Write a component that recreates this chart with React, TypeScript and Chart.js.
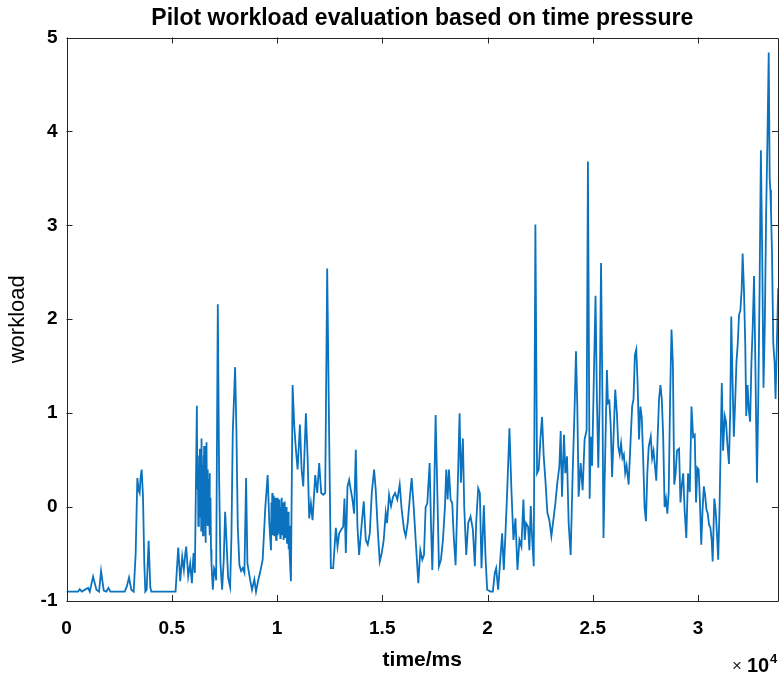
import React, { useEffect, useRef } from 'react';
import { Chart, registerables } from 'chart.js';

Chart.register(...registerables);

const timeMs = [
  0, 552, 631, 726, 1026, 1105, 1263, 1421, 1547, 1642,
  1769, 1895, 1990, 2085, 2764, 2859, 2970, 3080, 3191, 3285,
  3365, 3427, 3475, 3522, 3570, 3633, 3696, 3744, 3807, 3902,
  3980, 4028, 5181, 5308, 5403, 5497, 5576, 5640, 5687, 5782,
  5877, 5956, 6035, 6098,
  6193, 6215, 6240, 6262, 6287, 6310, 6335, 6357, 6382, 6400,
  6414, 6437, 6461, 6485, 6509, 6525, 6540, 6565, 6588, 6605,
  6619, 6635, 6651, 6675, 6698, 6720, 6746, 6770, 6793, 6817,
  6841, 6865, 6888,
  6951, 7014, 7062, 7109, 7188, 7251, 7314, 7393, 7472, 7536,
  7599, 7678, 7773, 7836, 7899, 8010, 8073, 8136, 8215, 8294,
  8373, 8452, 8531, 8594, 8719, 8813, 8924, 9003, 9098, 9193,
  9319, 9445, 9556, 9635,
  9714, 9735, 9755, 9775, 9795, 9815, 9835, 9855, 9875, 9895,
  9915, 9935, 9955, 9975, 9995, 10015, 10035, 10055, 10075, 10095,
  10115, 10135, 10155, 10175, 10195, 10215, 10235, 10255, 10275, 10295,
  10315, 10335, 10355, 10375, 10395, 10415, 10435, 10455, 10475, 10495,
  10515, 10535, 10555, 10575, 10600,
  10662, 10741,
  10820, 10899, 10978, 11089, 11168, 11247, 11373, 11452, 11531, 11610,
  11689, 11815, 11910, 12005, 12100, 12195, 12289, 12384, 12479, 12558,
  12669, 12795, 12874, 12953, 13048, 13143, 13206, 13269, 13348, 13427,
  13506, 13585, 13664, 13743, 13822, 13901, 14027, 14122, 14217, 14312,
  14407, 14502, 14612, 14691, 14786, 14881, 14976, 15070, 15165, 15228,
  15323, 15418, 15513, 15607, 15718, 15829, 15924, 16034, 16113, 16208,
  16303, 16397, 16492, 16587, 16713, 16808, 16903, 16982, 17061, 17140,
  17251, 17314, 17377, 17456, 17535, 17614, 17693, 17788, 17883, 17977,
  18041, 18104, 18167, 18246, 18325, 18388, 18483, 18562, 18673, 18736,
  18831, 18894, 18989, 19083, 19194, 19305, 19399, 19462, 19557, 19636,
  19715, 19826, 19905, 19984, 20142, 20253, 20347, 20411, 20505, 20616,
  20695, 20774, 20853, 20932, 21043, 21137, 21232, 21327, 21422, 21517,
  21611, 21706, 21769, 21833, 21927, 21990, 22054, 22117, 22196, 22275,
  22354, 22433, 22512, 22591, 22670, 22749, 22844, 22939, 23034, 23128,
  23223, 23318, 23413, 23476, 23539, 23634, 23697, 23776, 23855, 23950,
  24045, 24139, 24203, 24266, 24329, 24424, 24519, 24613, 24708, 24771,
  24853, 24902, 24968, 25066, 25132, 25197, 25263, 25329, 25394, 25460,
  25509, 25591, 25673, 25722, 25788, 25853, 25919, 26001, 26067, 26149,
  26214, 26280, 26345, 26411, 26477, 26542, 26608, 26706, 26805, 26870,
  26936, 27001, 27067, 27133, 27198, 27264, 27330, 27395, 27461, 27526,
  27592, 27657, 27755, 27821, 27887, 27952, 28018, 28084, 28149, 28215,
  28280, 28346, 28412, 28477, 28543, 28608, 28674, 28740, 28805, 28871,
  28937, 29002, 29100, 29166, 29232, 29297, 29363, 29445, 29527, 29609,
  29691, 29767, 29845, 29907, 29969, 30031, 30092, 30154, 30216, 30278,
  30340, 30402, 30464, 30526, 30588, 30650, 30696, 30774, 30836, 30897,
  30959, 31021, 31083, 31130, 31192, 31269, 31331, 31393, 31470, 31532,
  31579, 31640, 31702, 31764, 31826, 31888, 31950, 32012, 32074, 32120,
  32182, 32244, 32291, 32353, 32414, 32476, 32538, 32600, 32662, 32724,
  32801, 32863, 32925, 32987, 33049, 33111, 33173, 33235, 33297, 33359,
  33405, 33436, 33467, 33514, 33576, 33638, 33684, 33746, 33808, 33870,
];

const workload = [
  -0.9, -0.9, -0.875, -0.9, -0.86, -0.9, -0.74, -0.88, -0.9, -0.68,
  -0.89, -0.9, -0.86, -0.9, -0.9, -0.85, -0.75, -0.88, -0.9, -0.5,
  0.31, 0.18, 0.15, 0.32, 0.4, 0.12, -0.6, -0.9, -0.88, -0.36,
  -0.85, -0.9, -0.9, -0.43, -0.79, -0.53, -0.67, -0.5, -0.42, -0.74,
  -0.6, -0.81, -0.49, -0.7,
  1.08, 0.2, 0.55, -0.2, 0.45, -0.1, 0.62, 0.05, 0.5, -0.25,
  0.73, 0.0, 0.45, -0.3, 0.55, 0.1, 0.65, -0.2, 0.35, -0.38,
  0.3, 0.0, 0.69, -0.1, 0.4, -0.2, 0.3, -0.05, 0.36, -0.3,
  0.1, -0.45, -0.6,
  -0.88, -0.65, -0.68, -0.78, 2.16, 0.3, -0.6, -0.88, -0.55, -0.05,
  -0.35, -0.75, -0.85, -0.3, 0.8, 1.49, 0.8, -0.2, -0.62, -0.68,
  -0.65, -0.7, 0.31, -0.6, -0.77, -0.88, -0.77, -0.9, -0.79, -0.7,
  -0.56, 0.0, 0.34, -0.17,
  -0.46, 0.05, -0.2, 0.15, -0.3, 0.08, -0.15, 0.12, -0.3, 0.0,
  -0.25, 0.1, -0.35, 0.05, -0.2, 0.1, -0.3, 0.02, -0.28, 0.08,
  -0.2, 0.05, -0.33, 0.0, -0.22, 0.1, -0.3, -0.02, -0.25, 0.05,
  -0.35, 0.0, -0.2, 0.06, -0.32, -0.05, -0.3, 0.0, -0.38, -0.1,
  -0.35, -0.05, -0.45, -0.2, -0.5,
  -0.79, 1.3,
  0.86, 0.61, 0.4, 0.88, 0.4, 0.22, 1.0, 0.54, -0.12, 0.04,
  -0.14, 0.34, 0.15, 0.47, 0.15, 0.13, 0.15, 2.54, 0.72, -0.65,
  -0.65, -0.22, -0.42, -0.28, -0.24, -0.21, 0.09, -0.49, 0.22, 0.29,
  0.18, 0.08, -0.07, 0.61, -0.21, -0.51, -0.17, 0.06, -0.35, -0.4,
  -0.28, 0.15, 0.4, 0.18, -0.24, -0.58, -0.49, -0.35, -0.06, -0.17,
  0.13, 0.01, 0.11, 0.15, 0.08, 0.24, -0.03, -0.24, -0.31, -0.17,
  0.08, 0.31, 0.01, -0.35, -0.81, -0.46, -0.56, -0.51, 0.0, 0.04,
  0.47, -0.17, -0.67, 0.0, 0.98, 0.18, -0.63, -0.56, -0.35, 0.0,
  0.4, 0.08, 0.4, 0.08, 0.04, -0.28, -0.62, 0.0, 1.0, 0.26,
  0.73, 0.0, -0.51, -0.17, -0.1, -0.24, -0.63, -0.17, 0.2, 0.15,
  -0.65, 0.02, -0.53, -0.88, -0.9, -0.9, -0.7, -0.65, -0.88, -0.53,
  -0.28, -0.67, -0.28, 0.15, 0.84, 0.18, -0.35, -0.12, -0.67, -0.35,
  -0.42, 0.08, -0.35, -0.17, -0.21, -0.46, 0.01, -0.31, -0.63, 3.01,
  0.36, 0.4, 0.72, 0.96, 0.54, 0.29, -0.06, -0.14, -0.31, -0.14,
  0.04, 0.26, 0.43, 0.81, 0.11, 0.77, 0.36, 0.54, -0.17, -0.51,
  0.36, 1.07, 1.66, 1.07, 0.11, 0.47, 0.18, 0.72, 0.82, 3.68,
  0.09, 0.75, 0.44, 1.54, 2.25, 1.15, 0.42, 1.15, 2.6, 1.15,
  -0.33, 0.56, 1.46, 1.11, 1.13, 0.87, 0.32, 0.83, 1.25, 0.99,
  0.64, 0.56, 0.68, 0.52, 0.56, 0.36, 0.44, 0.24, 0.75, 1.07,
  1.15, 1.62, 1.68, 1.3, 0.72, 1.07, 0.95, 0.52, 0.0, -0.15,
  0.36, 0.64, 0.75, 0.52, 0.6, 0.44, 0.28, 0.75, 1.15, 1.3,
  1.15, 0.75, 0.0, 0.09, -0.07, 0.16, 1.15, 1.89, 1.54, 0.24,
  0.36, 0.6, 0.62, 0.05, 0.24, 0.36, -0.03, -0.33, 0.36, 0.16,
  1.07, 0.75, 0.77, 0.05, 0.42, 0.4, 0.05, -0.4, -0.03, 0.22,
  0.12, -0.03, -0.07, -0.19, -0.22, -0.35, -0.58, 0.09, -0.03, -0.27,
  -0.56, -0.03, 0.75, 1.32, 0.6, 0.97, 0.91, 0.68, 0.46, 1.03,
  2.03, 1.34, 0.75, 1.11, 1.54, 1.74, 2.05, 2.09, 2.32, 2.7,
  2.32, 1.74, 0.97, 1.3, 1.03, 0.91, 1.54, 1.93, 2.46, 1.54,
  0.26, 1.15, 2.32, 3.8, 2.72, 1.27, 1.93, 3.11, 3.9, 4.84,
  3.5, 3.38, 3.15, 2.72, 1.74, 1.54, 1.15, 1.74, 2.33, 2.0,
];

const xTickValues = [0, 5000, 10000, 15000, 20000, 25000, 30000];
const xTickLabels = ['0', '0.5', '1', '1.5', '2', '2.5', '3'];
const yTickValues = [-1, 0, 1, 2, 3, 4, 5];
const yTickLabels = ['-1', '0', '1', '2', '3', '4', '5'];

const X_MIN = 0;
const X_MAX = 33800;
const Y_MIN = -1;
const Y_MAX = 5;

const FONT = '"Liberation Sans", Arial, Helvetica, sans-serif';
const AXIS_COLOR = '#262626';
const LINE_COLOR = '#0A72BE';

const boxPlugin = {
  id: 'matlabBox',
  afterDraw(chart: any) {
    const { ctx, chartArea: a, scales } = chart;
    const xs = scales.x;
    const ys = scales.y;
    const tickLen = 6;
    ctx.save();
    ctx.strokeStyle = AXIS_COLOR;
    ctx.lineWidth = 1;
    ctx.beginPath();
    ctx.rect(Math.round(a.left) + 0.5, Math.round(a.top) + 0.5, Math.round(a.right - a.left) - 1, Math.round(a.bottom - a.top) - 1);
    ctx.stroke();
    ctx.beginPath();
    xTickValues.forEach((v) => {
      const x = Math.round(xs.getPixelForValue(v)) + 0.5;
      ctx.moveTo(x, a.bottom);
      ctx.lineTo(x, a.bottom - tickLen);
      ctx.moveTo(x, a.top);
      ctx.lineTo(x, a.top + tickLen);
    });
    yTickValues.forEach((v) => {
      const y = Math.round(ys.getPixelForValue(v)) + 0.5;
      ctx.moveTo(a.left, y);
      ctx.lineTo(a.left + tickLen, y);
      ctx.moveTo(a.right, y);
      ctx.lineTo(a.right - tickLen, y);
    });
    ctx.stroke();

    // exponent label of the x axis
    ctx.textBaseline = 'alphabetic';
    ctx.textAlign = 'left';
    ctx.fillStyle = AXIS_COLOR;
    ctx.font = `17px ${FONT}`;
    ctx.fillText('\u00d7', a.right - 46, 671);
    ctx.fillStyle = '#000';
    ctx.font = `bold 20px ${FONT}`;
    ctx.fillText('10', a.right - 31, 672);
    ctx.font = `bold 13px ${FONT}`;
    ctx.fillText('4', a.right - 8, 663);
    ctx.restore();
  },
};

export default function App() {
  const canvasRef = useRef<HTMLCanvasElement | null>(null);

  useEffect(() => {
    document.body.style.margin = '0';
    const canvas = canvasRef.current;
    if (!canvas) return;
    const points = timeMs.map((t, i) => ({ x: t, y: workload[i] }));
    const chart = new Chart(canvas, {
      type: 'line',
      data: {
        datasets: [
          {
            data: points,
            borderColor: LINE_COLOR,
            borderWidth: 1.8,
            pointRadius: 0,
            fill: false,
            tension: 0,
          },
        ],
      },
      options: {
        animation: false,
        responsive: false,
        devicePixelRatio: 1,
        layout: { padding: { left: 0, right: 2, top: 0, bottom: 0 } },
        plugins: {
          legend: { display: false },
          tooltip: { enabled: false },
          title: {
            display: true,
            text: 'Pilot workload evaluation based on time pressure',
            fullSize: false,
            color: '#000',
            font: { family: FONT, size: 23, weight: 'bold' },
            padding: { top: 5, bottom: 4.9 },
          },
        },
        scales: {
          x: {
            type: 'linear',
            min: X_MIN,
            max: X_MAX,
            afterBuildTicks: (s: any) => {
              s.ticks = xTickValues.map((value) => ({ value }));
            },
            afterFit: (s: any) => {
              s.height = 72;
              s.paddingLeft = 0;
              s.paddingRight = 0;
            },
            ticks: {
              autoSkip: false,
              maxRotation: 0,
              color: '#000',
              padding: 16,
              font: { family: FONT, size: 19, weight: 'bold' },
              callback: (v: any) => {
                const i = xTickValues.indexOf(Number(v));
                return i >= 0 ? xTickLabels[i] : '';
              },
            },
            grid: { display: false, drawTicks: false, tickLength: 0 },
            border: { display: false },
            title: {
              display: true,
              text: 'time/ms',
              color: '#000',
              font: { family: FONT, size: 21, weight: 'bold' },
              padding: { top: 0, bottom: 0 },
            },
          },
          y: {
            type: 'linear',
            min: Y_MIN,
            max: Y_MAX,
            afterBuildTicks: (s: any) => {
              s.ticks = yTickValues.map((value) => ({ value }));
            },
            afterFit: (s: any) => {
              s.width = 66.5;
              s.paddingTop = 0;
              s.paddingBottom = 0;
            },
            ticks: {
              autoSkip: false,
              color: '#000',
              padding: 9,
              font: { family: FONT, size: 19, weight: 'bold' },
              callback: (v: any) => {
                const i = yTickValues.indexOf(Number(v));
                return i >= 0 ? yTickLabels[i] : '';
              },
            },
            grid: { display: false, drawTicks: false, tickLength: 0 },
            border: { display: false },
            title: {
              display: true,
              text: 'workload',
              color: '#000',
              font: { family: FONT, size: 22, weight: 'normal' },
              padding: { top: 5, bottom: 0 },
            },
          },
        },
      },
      plugins: [boxPlugin],
    });
    return () => chart.destroy();
  }, []);

  return (
    <div style={{ width: 780, height: 673, background: '#fff' }}>
      <canvas ref={canvasRef} width={780} height={673} style={{ display: 'block', width: 780, height: 673 }} />
    </div>
  );
}
